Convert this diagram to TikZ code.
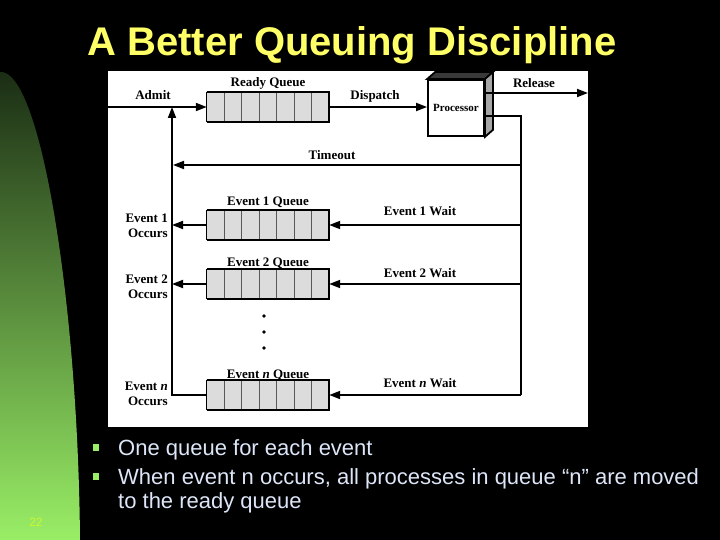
\documentclass[tikz,border=0pt]{standalone}
\usepackage{fontspec}
\setmainfont{Liberation Serif}
\newfontfamily\slidefont{Liberation Sans}
\usepackage{tikz}
\usepackage{xcolor}
\usetikzlibrary{arrows.meta,calc}

\definecolor{titleyellow}{HTML}{FFFF66}
\definecolor{slidegreen}{HTML}{99EE66}
\definecolor{darkgreen}{HTML}{1A2C14}
\definecolor{bullettext}{HTML}{DDE6F8}
\definecolor{cellgray}{HTML}{DCDCDC}

\begin{document}
\begin{tikzpicture}[x=1pt, y=-1pt, >={Triangle[length=11pt,width=8pt]},
  lbl/.style={font=\bfseries\fontsize{13}{15}\selectfont, anchor=base, inner sep=0pt},
  queue/.style={fill=cellgray, minimum width=122pt, minimum height=29pt, inner sep=0pt},
  flow/.style={line width=1.8pt},
  bullet/.style={font=\slidefont\fontsize{22}{24}\selectfont, text=bullettext, anchor=base west, inner sep=0pt}]
\useasboundingbox (0,0) rectangle (720,540);
\fill[black] (0,0) rectangle (720,540);

% green side bar
\shade[top color=darkgreen, bottom color=slidegreen] (0,72) .. controls (40,68) and (78,300) .. (80,540) -- (0,540) -- cycle;
\node[font=\slidefont\fontsize{12}{12}\selectfont, text=slidegreen!50!yellow] (pgno) at (36,522) {22};

\node[font=\slidefont\bfseries\fontsize{40}{44}\selectfont, text=titleyellow, anchor=base, inner sep=0pt] (title) at (352,56) {A Better Queuing Discipline};

% diagram panel
\fill[white] (108,71) rectangle (588,427);

% queues
\foreach \q/\y in {rq/107, q1/225, q2/284, qn/395} {
  \node[queue] (\q) at (268,\y) {};
  \foreach \k in {1,...,6}
    \draw[gray!70!black, line width=0.8pt] ($(\q.north west)!\k/7!(\q.north east)$) -- ($(\q.south west)!\k/7!(\q.south east)$);
  \draw[line width=0.8pt] (\q.north west) -- (\q.south west);
  \draw[flow] (\q.north west) -- (\q.north east) -- (\q.south east) -- (\q.south west);
}

% processor box
\node[draw, flow, fill=white, minimum width=56pt, minimum height=56pt, inner sep=0pt, font=\bfseries\fontsize{11}{13}\selectfont] (proc) at (456,108) {Processor};
\filldraw[flow, fill=gray!45!black] (proc.north west) -- ++(8,-7) -- ($(proc.north east)+(8,-7)$) -- (proc.north east) -- cycle;
\filldraw[flow, fill=gray!70] (proc.north east) -- ++(8,-7) -- ($(proc.south east)+(8,-7)$) -- (proc.south east) -- cycle;

\coordinate (admitin) at (108,107);
\coordinate (relout) at (588,93);
\coordinate (trunktop) at (521,116);
\coordinate (trunkbot) at (521,395);
\coordinate (busbot) at (172,395);
\coordinate (tmo) at (521,165);
\coordinate (tmoend) at (173,165);

% flows
\draw[flow,->] (admitin) -- (rq.west);
\draw[flow,->] (rq.east) -- (rq.east -| proc.west);
\draw[flow,->] (relout -| proc.east) -- (relout);
\draw[flow] (trunktop -| proc.east) -- (trunktop) -- (trunkbot);
\draw[flow,->] (tmo) -- (tmoend);
\foreach \q in {q1,q2,qn} \draw[flow,->] (trunktop |- \q.east) -- (\q.east);
\foreach \q in {q1,q2} \draw[flow,->] (\q.west) -- (busbot |- \q.west);
\draw[flow,->] (qn.west) -- (busbot) -- (busbot |- rq.west);

% labels
\node[lbl] (admitlbl) at (153,100) {Admit};
\node[lbl] (rqlbl) at (268,86.4) {Ready Queue};
\node[lbl] (displbl) at (375,100) {Dispatch};
\node[lbl] (rellbl) at (534,88) {Release};
\node[lbl] (tmolbl) at (332,160) {Timeout};
\node[lbl] (q1lbl) at (268,206) {Event 1 Queue};
\node[lbl] (q2lbl) at (268,266.7) {Event 2 Queue};
\node[lbl] (qnlbl) at (268,378) {Event \textit{n} Queue};
\node[lbl] (w1lbl) at (420,215.5) {Event 1 Wait};
\node[lbl] (w2lbl) at (420,277) {Event 2 Wait};
\node[lbl] (wnlbl) at (420,387.5) {Event \textit{n} Wait};
\foreach \nm/\ev/\y in {o1/1/222.7, o2/2/283.3, on/\textit{n}/390.5} {
  \node[lbl, anchor=base east] (\nm-top) at (168,\y) {Event \ev};
  \node[lbl, anchor=base east] (\nm-bot) at (168,\y+15) {Occurs};
}
\foreach \y in {316,332,348} \fill (264,\y) circle (1.8);

% bullet points
\foreach \y in {447,476} \fill[slidegreen] (93,\y-3.5) rectangle (99,\y+3.5);
\node[bullet] (pt1) at (118,455) {One queue for each event};
\node[bullet] (pt2) at (118,484) {When event n occurs, all processes in queue “n” are moved};
\node[bullet] (pt3) at (118,508) {to the ready queue};
\end{tikzpicture}
\end{document}
